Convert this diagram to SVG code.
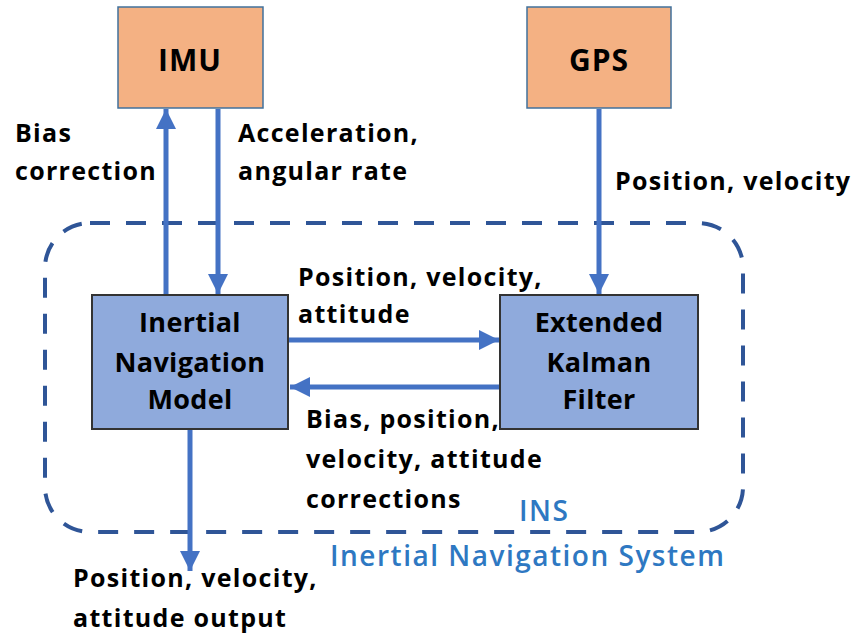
<svg xmlns="http://www.w3.org/2000/svg" width="855" height="634" viewBox="0 0 855 634">
<defs>
<marker id="ah" viewBox="0 0 10 10" refX="10" refY="5" markerWidth="4" markerHeight="4" markerUnits="strokeWidth" orient="auto">
<path d="M0,0 L10,5 L0,10 z" fill="#4472C4"/>
</marker>
<style>
.lbl{font-family:"Open Sans",Lato,"Liberation Sans",sans-serif;font-weight:bold;font-size:25px;letter-spacing:1.3px;fill:#000}
.box{font-size:27px;letter-spacing:0.3px}
.big{font-size:30px;letter-spacing:1px}
.blue{fill:#2E78C2;font-weight:600;font-size:28px;letter-spacing:1.5px}
.src{fill:#F4B183;stroke:#41719C;stroke-width:1.5}
.blk{fill:#8FAADC;stroke:#333;stroke-width:2}
.conn{stroke:#4472C4;stroke-width:5;fill:none;marker-end:url(#ah)}
</style>
</defs>
<rect width="855" height="634" fill="#fff"/>
<g id="ins-boundary">
<rect x="45" y="223" width="698" height="309" rx="45" ry="45" fill="none" stroke="#2F5597" stroke-width="4" stroke-dasharray="20 16"/>
<text class="lbl blue" x="519" y="521">INS</text>
<text class="lbl blue" x="330" y="566">Inertial Navigation  System</text>
</g>
<g id="connectors">
<line class="conn" x1="166" y1="295" x2="166" y2="109"/>
<line class="conn" x1="218" y1="109" x2="218" y2="294"/>
<line class="conn" x1="599" y1="109" x2="599" y2="294"/>
<line class="conn" x1="289" y1="340" x2="499" y2="340"/>
<line class="conn" x1="500" y1="387" x2="290" y2="387"/>
<line class="conn" x1="190" y1="430" x2="190" y2="571"/>
<text class="lbl" x="15" y="142">Bias</text>
<text class="lbl" x="15" y="180">correction</text>
<text class="lbl" x="238" y="142">Acceleration,</text>
<text class="lbl" x="238" y="180">angular rate</text>
<text class="lbl" x="615" y="190">Position, velocity</text>
<text class="lbl" x="298" y="286">Position, velocity,</text>
<text class="lbl" x="298" y="323">attitude</text>
<text class="lbl" x="306" y="428">Bias, position,</text>
<text class="lbl" x="306" y="468">velocity, attitude</text>
<text class="lbl" x="306" y="508">corrections</text>
<text class="lbl" x="73" y="587">Position, velocity,</text>
<text class="lbl" x="73" y="627">attitude output</text>
</g>
<g id="imu">
<rect class="src" x="118" y="7" width="145" height="101"/>
<text class="lbl big" x="190" y="71" text-anchor="middle">IMU</text>
</g>
<g id="gps">
<rect class="src" x="527" y="7" width="144" height="101"/>
<text class="lbl big" x="599" y="71" text-anchor="middle">GPS</text>
</g>
<g id="inm">
<rect class="blk" x="92" y="295" width="196" height="134"/>
<text class="lbl box" x="190" y="332" text-anchor="middle">Inertial</text>
<text class="lbl box" x="190" y="372" text-anchor="middle">Navigation</text>
<text class="lbl box" x="190" y="409" text-anchor="middle">Model</text>
</g>
<g id="ekf">
<rect class="blk" x="500" y="295" width="198" height="134"/>
<text class="lbl box" x="599" y="332" text-anchor="middle">Extended</text>
<text class="lbl box" x="599" y="372" text-anchor="middle">Kalman</text>
<text class="lbl box" x="599" y="409" text-anchor="middle">Filter</text>
</g>
</svg>
